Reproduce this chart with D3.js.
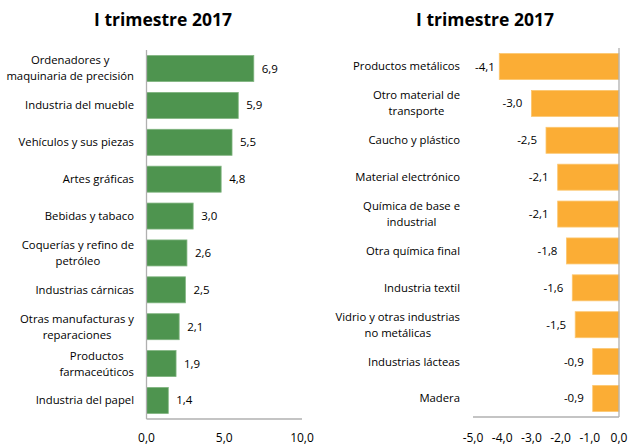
<!DOCTYPE html>
<html>
<head>
<meta charset="utf-8">
<script src="https://cdn.jsdelivr.net/npm/d3@7"></script>
<style>
  body { margin: 0; background: #fff; }
  text { font-family: "Open Sans", "Liberation Sans", sans-serif; fill: #000; }
</style>
</head>
<body>
<div id="chart"></div>
<script>
// data
var titleText = "I trimestre 2017";

var posCategories = [
  "Ordenadores y\nmaquinaria de precisión",
  "Industria del mueble",
  "Vehículos y sus piezas",
  "Artes gráficas",
  "Bebidas y tabaco",
  "Coquerías y refino de\npetróleo",
  "Industrias cárnicas",
  "Otras manufacturas y\nreparaciones",
  "Productos\nfarmaceúticos",
  "Industria del papel"
];
var posValues = [6.9, 5.9, 5.5, 4.8, 3.0, 2.6, 2.5, 2.1, 1.9, 1.4];
var posTicks = [0, 5, 10];

var negCategories = [
  "Productos metálicos",
  "Otro material de\ntransporte",
  "Caucho y plástico",
  "Material electrónico",
  "Química de base e\nindustrial",
  "Otra química final",
  "Industria textil",
  "Vidrio y otras industrias\nno metálicas",
  "Industrias lácteas",
  "Madera"
];
var negValues = [-4.1, -3.0, -2.5, -2.1, -2.1, -1.8, -1.6, -1.5, -0.9, -0.9];
var negTicks = [-5, -4, -3, -2, -1, 0];

var width = 630, height = 446;
var fmt = function (v) { return d3.format(".1f")(v).replace(".", ",").replace("−", "-"); };

var svg = d3.select("#chart").append("svg")
  .attr("width", width)
  .attr("height", height);

// draw one panel
function panel(cfg) {
  var g = svg.append("g");
  var x = d3.scaleLinear().domain(cfg.domain).range(cfg.xRange);
  var y = d3.scaleBand().domain(cfg.cats).range(cfg.yRange)
    .paddingInner(0.295).paddingOuter(0.15);

  g.append("text")
    .attr("x", cfg.titleX).attr("y", 26)
    .attr("text-anchor", "middle")
    .style("font-size", "17.5px").style("font-weight", "bold")
    .text(titleText);

  // bars
  g.selectAll("rect.bar").data(cfg.values).join("rect")
    .attr("class", "bar")
    .attr("x", function (d) { return Math.min(x(0), x(d)); })
    .attr("y", function (d, i) { return y(cfg.cats[i]); })
    .attr("width", function (d) { return Math.abs(x(d) - x(0)); })
    .attr("height", y.bandwidth())
    .attr("fill", cfg.color)
    .attr("stroke", cfg.stroke).attr("stroke-width", 0.8);

  // value labels
  g.selectAll("text.val").data(cfg.values).join("text")
    .attr("class", "val")
    .attr("y", function (d, i) { return y(cfg.cats[i]) + y.bandwidth() / 2; })
    .attr("dy", "0.35em")
    .style("font-size", "11.5px")
    .attr("text-anchor", cfg.neg ? "end" : "start")
    .text(fmt)
    .attr("x", function (d) {
      if (!cfg.neg) return x(d) + 8;
      var w = this.getComputedTextLength();
      return Math.max(x(d) - 9, cfg.xRange[0] + w + 2);
    });

  // axis lines
  g.append("line")
    .attr("x1", x(0)).attr("x2", x(0))
    .attr("y1", cfg.yRange[0]).attr("y2", cfg.yRange[1])
    .attr("stroke", "#b0b0b0").attr("stroke-width", 1.3);
  g.append("line")
    .attr("x1", cfg.xRange[0]).attr("x2", cfg.xRange[1])
    .attr("y1", cfg.yRange[1]).attr("y2", cfg.yRange[1])
    .attr("stroke", "#b0b0b0").attr("stroke-width", 1.3);

  // tick labels
  g.selectAll("text.tick").data(cfg.ticks).join("text")
    .attr("class", "tick")
    .attr("x", function (d) { return x(d); })
    .attr("y", 442)
    .attr("text-anchor", "middle")
    .style("font-size", "12px")
    .text(fmt);

  // category labels, multi-line centred in a right-aligned block
  cfg.cats.forEach(function (c) {
    var lines = c.split("\n");
    var t = g.append("text")
      .style("font-size", "11.3px")
      .attr("text-anchor", "middle");
    var cy = y(c) + y.bandwidth() / 2;
    var lh = 16;
    lines.forEach(function (l, j) {
      t.append("tspan")
        .attr("y", cy + (j - (lines.length - 1) / 2) * lh)
        .attr("dy", "0.35em")
        .text(l);
    });
    var w = d3.max(t.selectAll("tspan").nodes(), function (n) { return n.getComputedTextLength(); });
    t.selectAll("tspan").attr("x", cfg.labelRight - w / 2);
  });
}

panel({
  cats: posCategories, values: posValues, ticks: posTicks,
  domain: [0, 10], xRange: [146.5, 302], yRange: [50, 419],
  color: "#4e944f", stroke: "#7fb47f", titleX: 163, labelRight: 134, neg: false
});

panel({
  cats: negCategories, values: negValues, ticks: negTicks,
  domain: [-5, 0], xRange: [473, 619], yRange: [48, 417],
  color: "#fbad35", stroke: "#fcc66f", titleX: 485, labelRight: 460, neg: true
});
</script>
</body>
</html>
